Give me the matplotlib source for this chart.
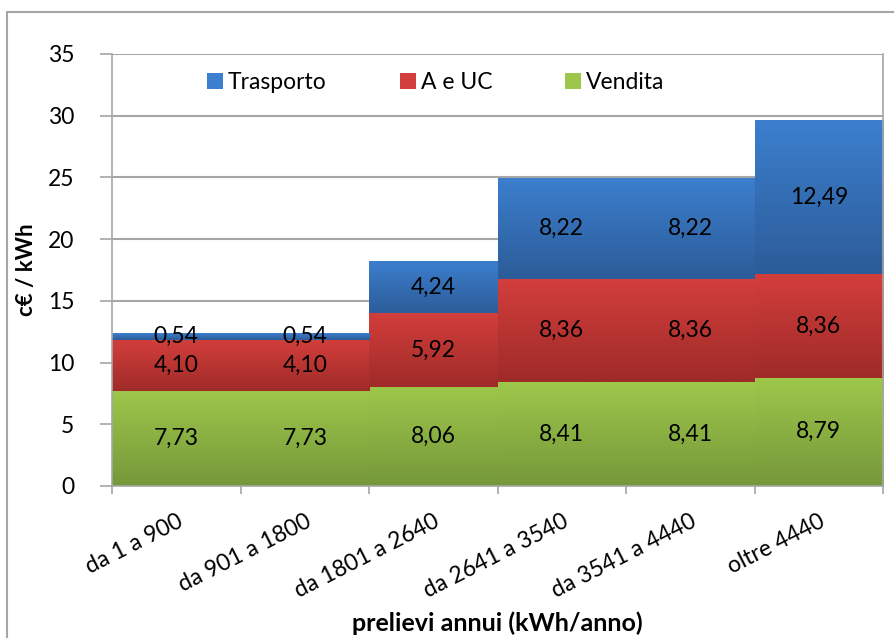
import numpy as np
import matplotlib.pyplot as plt
from matplotlib.patches import Patch, Rectangle

plt.rcParams['font.family'] = ['Lato', 'DejaVu Sans']

categories = ['da 1 a 900', 'da 901 a 1800', 'da 1801 a 2640', 'da 2641 a 3540', 'da 3541 a 4440', 'oltre 4440']
vendita = [7.73, 7.73, 8.06, 8.41, 8.41, 8.79]
aeuc = [4.10, 4.10, 5.92, 8.36, 8.36, 8.36]
trasporto = [0.54, 0.54, 4.24, 8.22, 8.22, 12.49]

# (name, values, top colour, bottom colour)
series = [
	('Vendita', vendita, '#9dc74b', '#76983a'),
	('A e UC', aeuc, '#d23e3b', '#9f2b29'),
	('Trasporto', trasporto, '#3c7fce', '#2c5c99'),
]

fig = plt.figure(figsize=(8.94, 6.38), dpi=100)
ax = fig.add_axes([112/894, 1 - 486/638, 771/894, 432/638])

x = np.arange(len(categories))
bottom = np.zeros(len(categories))
for name, vals, ctop, cbot in series:
	vals = np.array(vals)
	bars = ax.bar(x, vals, width=1.0, bottom=bottom, facecolor='none', edgecolor='none', zorder=2)
	c1 = np.array(plt.matplotlib.colors.to_rgb(ctop))
	c2 = np.array(plt.matplotlib.colors.to_rgb(cbot))
	t = np.linspace(0, 1, 64)[:, None]
	grad = (c1 * (1 - t) + c2 * t)[:, None, :]
	for rect in bars:
		x0, y0 = rect.get_x(), rect.get_y()
		im = ax.imshow(grad, extent=(x0, x0 + rect.get_width(), y0, y0 + rect.get_height()),
			aspect='auto', origin='upper', zorder=2, interpolation='bilinear')
		im.set_clip_path(rect)
	for xi, b, v in zip(x, bottom, vals):
		ax.text(xi, b + v / 2, f'{v:.2f}'.replace('.', ','), ha='center', va='center',
			fontsize=16.5, color='black', zorder=4)
	bottom = bottom + vals

ax.set_xlim(-0.5, len(categories) - 0.5)
ax.set_ylim(0, 35)
ax.set_yticks(np.arange(0, 36, 5))
ax.yaxis.grid(True, color='#a6a6a6', linewidth=1.5, zorder=0)
ax.set_axisbelow(True)

ax.set_xticks(x)
ax.set_xticklabels(categories, rotation=27, ha='right', rotation_mode='anchor', fontsize=16.5)
ax.set_xticks(np.arange(len(categories) + 1) - 0.5, minor=True)
ax.tick_params(axis='x', which='major', length=0, pad=18)
ax.tick_params(axis='x', which='minor', length=6, width=1.2, color='#a6a6a6')
ax.tick_params(axis='y', length=9, width=1.2, color='#a6a6a6', labelsize=16.5, pad=18)

for s in ['top']:
	ax.spines[s].set_visible(False)
for s in ['left', 'bottom', 'right']:
	ax.spines[s].set_color('#a6a6a6')
	ax.spines[s].set_linewidth(1.2)

ax.set_ylabel('c€ / kWh', fontsize=16, fontweight='bold', labelpad=8)
ax.set_xlabel('prelievi annui (kWh/anno)', fontsize=18, fontweight='bold')
ax.xaxis.set_label_coords(0.5, -0.29)

handles = [Patch(facecolor=s[2], edgecolor='none') for s in series[::-1]]
labels = [s[0] for s in series[::-1]]
ax.legend(handles, labels, loc='center', bbox_to_anchor=(0.42, 0.933), ncol=3, frameon=False,
	fontsize=16.5, handlelength=0.7, handleheight=0.7, handletextpad=0.2, columnspacing=3.2)

fig.patches.append(Rectangle((7/894, -0.1), 2, 1.1 - 12/638, fill=False, edgecolor='#a6a6a6',
	linewidth=1.5, transform=fig.transFigure))

fig.savefig('out.png', dpi=100)
